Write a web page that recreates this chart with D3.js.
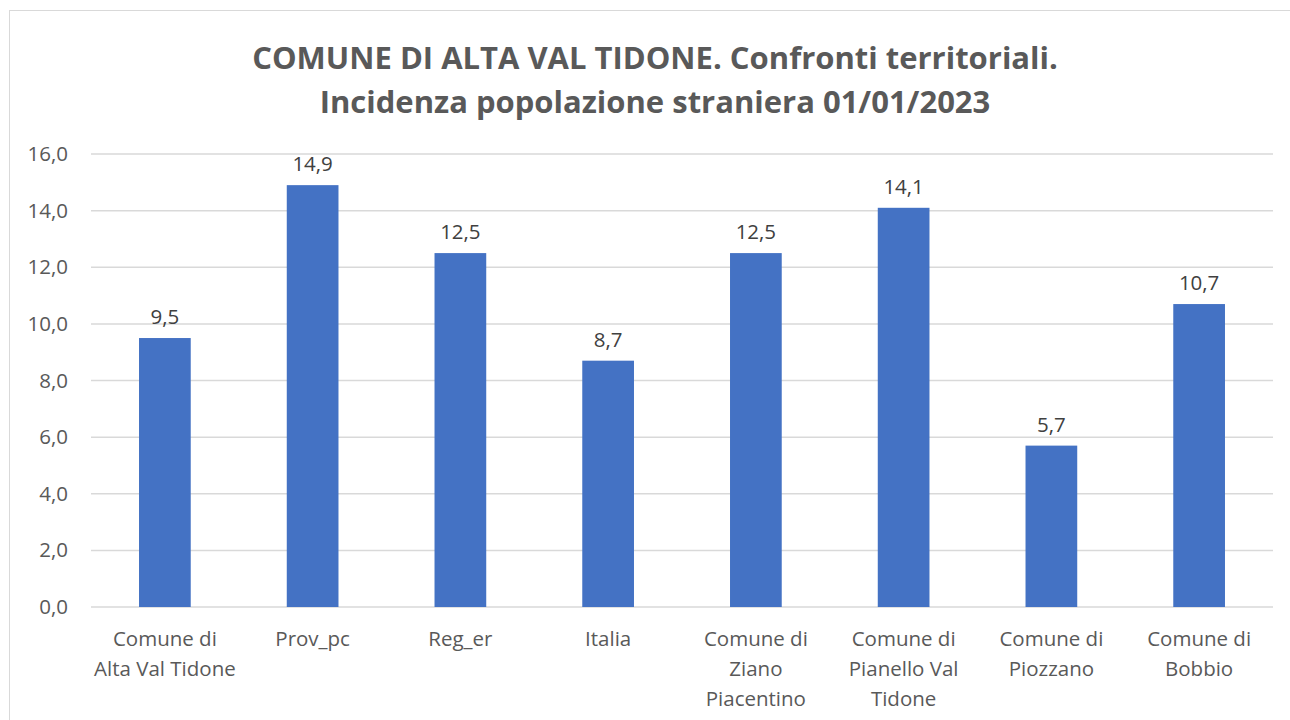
<!DOCTYPE html>
<html>
<head>
<meta charset="utf-8">
<script src="https://cdn.jsdelivr.net/npm/d3@7"></script>
<style>
  body { margin: 0; background: #fff; }
  svg { display: block; font-family: "Open Sans", "Noto Sans", sans-serif; }
</style>
</head>
<body>
<div id="chart"></div>
<script>
const width = 1290
const height = 720

const categories = [
  ["Comune di", "Alta Val Tidone"],
  ["Prov_pc"],
  ["Reg_er"],
  ["Italia"],
  ["Comune di", "Ziano", "Piacentino"],
  ["Comune di", "Pianello Val", "Tidone"],
  ["Comune di", "Piozzano"],
  ["Comune di", "Bobbio"]
]
const values = [9.5, 14.9, 12.5, 8.7, 12.5, 14.1, 5.7, 10.7]
const yTicks = [0, 2, 4, 6, 8, 10, 12, 14, 16]
const titleLines = [
  "COMUNE DI ALTA VAL TIDONE. Confronti territoriali.",
  "Incidenza popolazione straniera 01/01/2023"
]

const margin = { top: 154, right: 17, bottom: 113, left: 91 }
const fmt = v => v.toFixed(1).replace(".", ",")

const svg = d3.select("#chart").append("svg")
  .attr("width", width)
  .attr("height", height)

// chart frame
svg.append("rect")
  .attr("x", 9.5).attr("y", 10.5)
  .attr("width", width).attr("height", height)
  .attr("fill", "none")
  .attr("stroke", "#d9d9d9")

const x = d3.scaleBand()
  .domain(d3.range(categories.length))
  .range([margin.left, width - margin.right])
  .paddingInner(0.65)
  .paddingOuter(0.325)

const y = d3.scaleLinear()
  .domain([0, 16])
  .range([height - margin.bottom, margin.top])

// gridlines
svg.append("g")
  .selectAll("line")
  .data(yTicks)
  .join("line")
  .attr("x1", margin.left).attr("x2", width - margin.right)
  .attr("y1", d => y(d)).attr("y2", d => y(d))
  .attr("stroke", "#d9d9d9")
  .attr("stroke-width", 1.5)

// y axis
const yAxis = svg.append("g")
  .attr("transform", `translate(${margin.left - 23},0)`)
  .call(d3.axisLeft(y).tickValues(yTicks).tickFormat(fmt).tickSize(0).tickPadding(0))
yAxis.select(".domain").remove()
yAxis.selectAll("text")
  .attr("font-size", 20.5)
  .attr("fill", "#595959")
  .attr("font-family", "Open Sans, sans-serif")

// bars
svg.append("g")
  .selectAll("rect")
  .data(values)
  .join("rect")
  .attr("x", (d, i) => x(i))
  .attr("width", x.bandwidth())
  .attr("y", d => y(d))
  .attr("height", d => y(0) - y(d))
  .attr("fill", "#4472c4")

// data labels
svg.append("g")
  .selectAll("text")
  .data(values)
  .join("text")
  .attr("x", (d, i) => x(i) + x.bandwidth() / 2)
  .attr("y", d => y(d) - 14)
  .attr("text-anchor", "middle")
  .attr("font-size", 20.5)
  .attr("fill", "#404040")
  .text(fmt)

// category labels
const xl = svg.append("g")
  .selectAll("text")
  .data(categories)
  .join("text")
  .attr("text-anchor", "middle")
  .attr("font-size", 20.5)
  .attr("fill", "#595959")
xl.selectAll("tspan")
  .data((d, i) => d.map(t => ({ t, i })))
  .join("tspan")
  .attr("x", d => x(d.i) + x.bandwidth() / 2)
  .attr("y", (d, j) => y(0) + 39 + j * 30)
  .text(d => d.t)

// title
svg.append("g")
  .selectAll("text")
  .data(titleLines)
  .join("text")
  .attr("x", 655)
  .attr("y", (d, i) => 69 + i * 44)
  .attr("text-anchor", "middle")
  .attr("font-size", 31)
  .attr("font-weight", "bold")
  .attr("fill", "#595959")
  .text(d => d)
</script>
</body>
</html>
